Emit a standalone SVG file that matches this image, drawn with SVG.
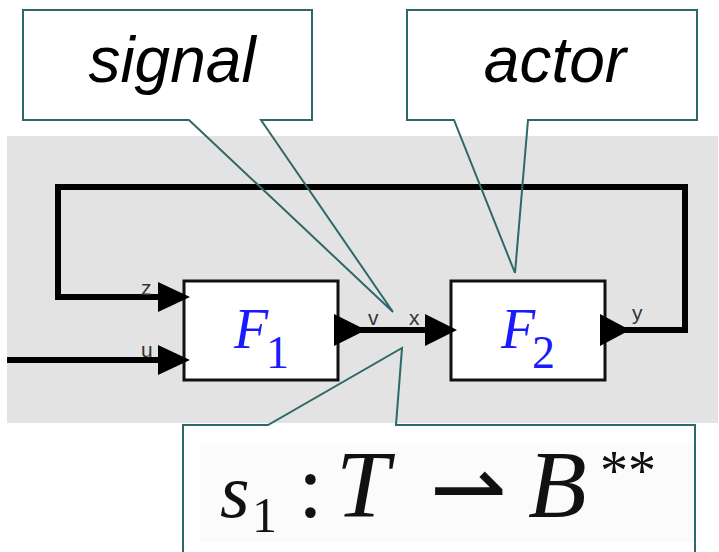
<svg xmlns="http://www.w3.org/2000/svg" width="719" height="552" viewBox="0 0 719 552">
<style>
.wire{fill:none;stroke:#000;stroke-width:6;stroke-linejoin:miter;stroke-linecap:butt}
.head{fill:#000}
.blk{fill:#fff;stroke:#111;stroke-width:3}
.port{font-family:"Liberation Sans",Arial,sans-serif;font-size:21px;fill:#333}
.callout{fill:none;stroke:#2f6868;stroke-width:2;stroke-linejoin:miter}
.cbox{fill:#fff;stroke:none}
.ctext{font-family:"Liberation Sans",Arial,sans-serif;font-style:italic;font-size:64px;fill:#000}
.fn{font-family:"Liberation Serif","Times New Roman",serif;font-style:italic;fill:#1a1aff}
.fsub{font-family:"Liberation Serif","Times New Roman",serif;fill:#1a1aff}
.m{font-family:"Liberation Serif","Times New Roman",serif;fill:#111}
</style>
<rect x="0" y="0" width="719" height="552" fill="#fff"/>
<rect x="7" y="136" width="711" height="287" fill="#e3e3e3"/>

<g id="F1">
<rect class="blk" x="184" y="281" width="154" height="99"/>
<text class="fn" x="234" y="348" font-size="56">F</text>
<text class="fsub" x="266" y="368" font-size="46">1</text>
</g>
<g id="F2">
<rect class="blk" x="451" y="281" width="154" height="99"/>
<text class="fn" x="501" y="348" font-size="56">F</text>
<text class="fsub" x="532" y="368" font-size="46">2</text>
</g>

<g id="connectors">
<path class="wire" d="M7 360H162"/>
<path class="wire" d="M338 330H430"/>
<path class="wire" d="M620 330H685V187H58V297H162"/>
<polygon class="head" points="158,282 190,297 158,312"/>
<polygon class="head" points="158,345 190,360 158,375"/>
<polygon class="head" points="334,314 366,330 334,346"/>
<polygon class="head" points="425,314 457,330 425,346"/>
<polygon class="head" points="600,314 630,330 600,346"/>
<text class="port" x="141" y="295">z</text>
<text class="port" x="141" y="357">u</text>
<text class="port" x="368" y="325">v</text>
<text class="port" x="409" y="325">x</text>
<text class="port" x="632" y="320">y</text>
</g>

<g id="signal">
<rect class="cbox" x="23" y="10" width="289" height="110"/>
<polygon class="callout" points="23,10 312,10 312,120 261,120 393,312 189,120 23,120"/>
<text class="ctext" x="172" y="82" text-anchor="middle">signal</text>
</g>
<g id="actor">
<rect class="cbox" x="407" y="10" width="290" height="110"/>
<polygon class="callout" points="407,10 697,10 697,120 528,120 515,273 454,120 407,120"/>
<text class="ctext" x="555" y="82" text-anchor="middle">actor</text>
</g>
<g id="signal-type">
<rect class="cbox" x="183" y="425" width="512" height="140"/>
<rect x="200" y="443" width="494" height="99" fill="#fbfbfb"/>
<polyline class="callout" points="183,560 183,425 268,425 402,348 396,425 695,425 695,560"/>
<text class="m" x="220" y="517" font-size="76" font-style="italic">s</text>
<text class="m" x="252" y="532" font-size="50">1</text>
<text class="m" x="298" y="517" font-size="90">:</text>
<text class="m" x="336" y="517" font-size="96" font-style="italic">T</text>
<text x="430" y="520" font-family="DejaVu Sans,sans-serif" font-size="92" fill="#111">⇀</text>
<text class="m" x="528" y="517" font-size="96" font-style="italic">B</text>
<text class="m" x="600" y="490" font-size="56">**</text>
</g>
</svg>
